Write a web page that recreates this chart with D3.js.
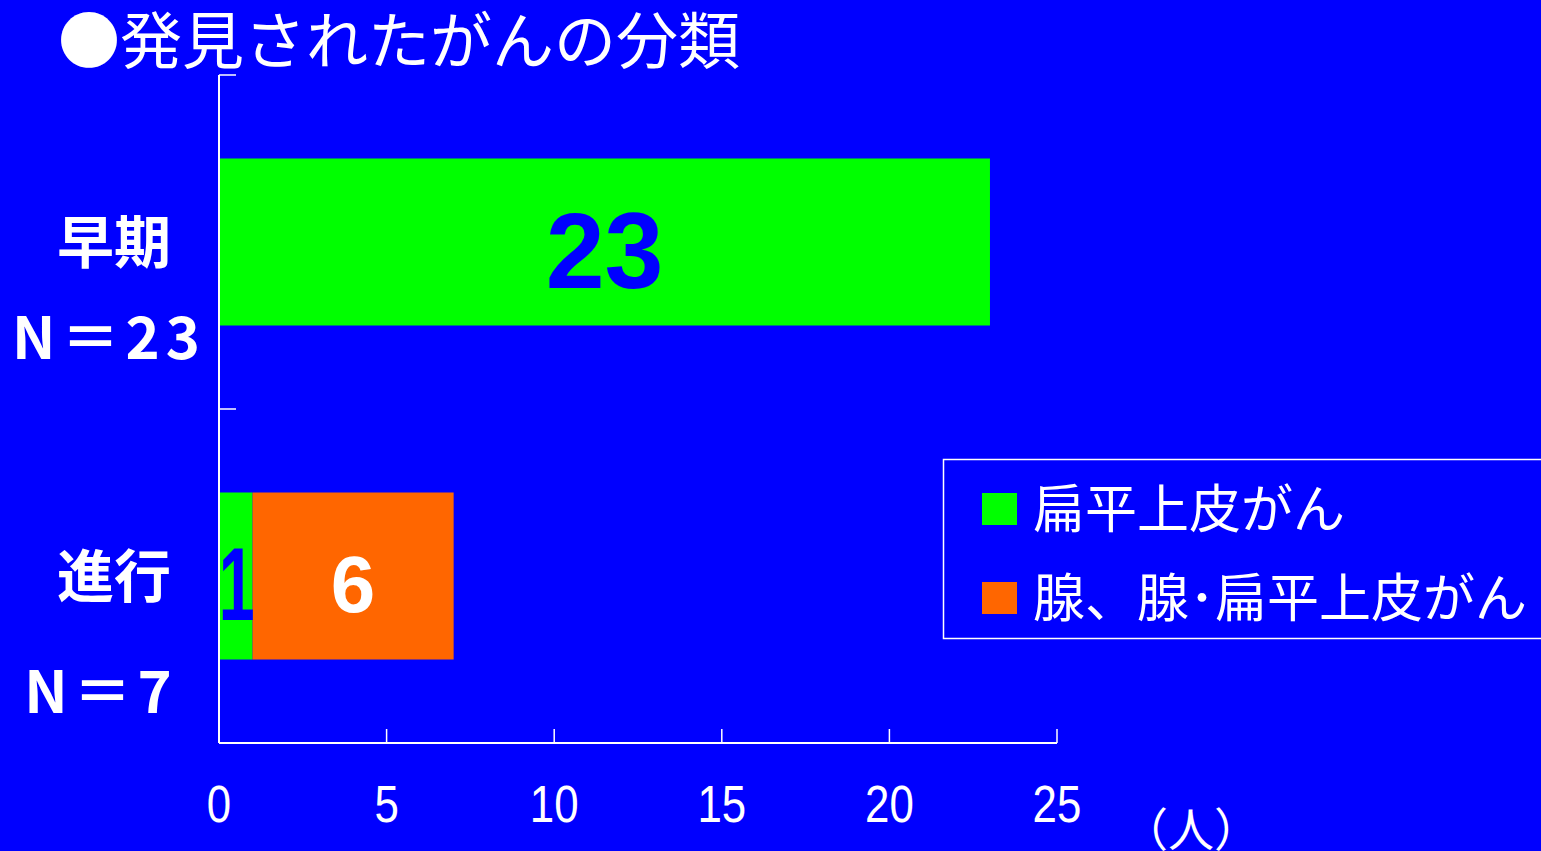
<!DOCTYPE html>
<html>
<head>
<meta charset="utf-8">
<script src="https://cdn.jsdelivr.net/npm/d3@7"></script>
<style>
  html, body { margin: 0; padding: 0; background: #0000ff; overflow: hidden; }
  svg { display: block; }
</style>
</head>
<body>
<svg id="chart" width="1541" height="851"></svg>
<script>
// Stages of the detected cancers and counts by histology
const categories = ["早期", "進行"];
const nLabels = ["N＝23", "N＝7"];
const squamous = [23, 1];          // 扁平上皮がん
const adeno = [0, 6];              // 腺、腺･扁平上皮がん
const xTicks = [0, 5, 10, 15, 20, 25];
const seriesNames = ["扁平上皮がん", "腺、腺･扁平上皮がん"];
const seriesColors = ["#00ff00", "#ff6600"];
const titleText = "●発見されたがんの分類";
const unitText = "（人）";

const W = 1541, H = 851;
const JP = "'Noto Sans CJK JP', 'Noto Sans', sans-serif";
const LAT = "'Liberation Sans', Arial, sans-serif";
const svg = d3.select("#chart");

svg.append("rect").attr("width", W).attr("height", H).attr("fill", "#0000ff");

const plot = { left: 219, right: 1057, top: 75, bottom: 743 };

const x = d3.scaleLinear().domain([0, 25]).range([plot.left, plot.right]);
const y = d3.scaleBand().domain(categories).range([plot.top, plot.bottom])
  .paddingInner(0.5).paddingOuter(0.25);

// Title
svg.append("text")
  .attr("x", 58).attr("y", 64)
  .attr("font-family", JP).attr("font-size", 62)
  .attr("fill", "#fff")
  .text(titleText);

// Stacked bars
const rows = categories.map((c, i) => ({ cat: c, vals: [squamous[i], adeno[i]] }));
rows.forEach(r => {
  let acc = 0;
  r.vals.forEach((v, k) => {
    if (v > 0) {
      svg.append("rect")
        .attr("x", x(acc)).attr("y", y(r.cat))
        .attr("width", x(acc + v) - x(acc)).attr("height", y.bandwidth())
        .attr("fill", seriesColors[k]);
    }
    acc += v;
  });
});

// Value labels inside bars
function barLabel(cat, start, v, size, color, sx, dx) {
  const cx = (x(start) + x(start + v)) / 2 + dx;
  const cy = y(cat) + y.bandwidth() / 2 + 7 + size * 0.716 / 2;
  svg.append("text")
    .attr("transform", `translate(${cx},${cy}) scale(${sx},1)`)
    .attr("text-anchor", "middle")
    .attr("font-family", LAT).attr("font-weight", "bold")
    .attr("font-size", size).attr("fill", color)
    .text(v);
}
barLabel(categories[0], 0, squamous[0], 108, "#0000ff", 0.98, 0);
barLabel(categories[1], 0, squamous[1], 104, "#0000ff", 0.62, 1);
barLabel(categories[1], squamous[1], adeno[1], 80, "#ffffff", 1, 0);

// Axes
const axisColor = "#ffffff";
svg.append("line")
  .attr("x1", plot.left).attr("x2", plot.left)
  .attr("y1", plot.top).attr("y2", plot.bottom)
  .attr("stroke", axisColor).attr("stroke-width", 2);
svg.append("line")
  .attr("x1", plot.left).attr("x2", plot.right)
  .attr("y1", plot.bottom).attr("y2", plot.bottom)
  .attr("stroke", axisColor).attr("stroke-width", 2);

// Category boundary ticks on the vertical axis
const bounds = [plot.top].concat(categories.map(c => y(c) + y.bandwidth() + y.step() * 0.25));
bounds.forEach(b => {
  svg.append("line")
    .attr("x1", plot.left).attr("x2", plot.left + 17)
    .attr("y1", b).attr("y2", b)
    .attr("stroke", axisColor).attr("stroke-width", 1.5);
});

// Horizontal axis ticks and labels
xTicks.forEach(t => {
  svg.append("line")
    .attr("x1", x(t)).attr("x2", x(t))
    .attr("y1", plot.bottom).attr("y2", plot.bottom - 14)
    .attr("stroke", axisColor).attr("stroke-width", 1.5);
  svg.append("text")
    .attr("transform", `translate(${x(t)},822) scale(0.86,1)`)
    .attr("text-anchor", "middle")
    .attr("font-family", LAT).attr("font-size", 51)
    .attr("fill", "#fff")
    .text(t);
});

svg.append("text")
  .attr("x", 1191).attr("y", 846)
  .attr("text-anchor", "middle")
  .attr("font-family", JP).attr("font-size", 46)
  .attr("fill", "#fff")
  .text(unitText);

// Category labels
categories.forEach((c, i) => {
  const cy = y(c) + y.bandwidth() / 2;
  svg.append("text")
    .attr("x", 114).attr("y", cy)
    .attr("dy", "0.36em")
    .attr("text-anchor", "middle")
    .attr("font-family", JP).attr("font-weight", "bold").attr("font-size", 57)
    .attr("fill", "#fff")
    .text(c);
});
const nPos = [{ x: 109, y: 338 }, { x: 101, y: 692 }];
nLabels.forEach((t, i) => {
  svg.append("text")
    .attr("x", nPos[i].x).attr("y", nPos[i].y)
    .attr("dy", "0.36em")
    .attr("text-anchor", "middle")
    .attr("font-family", JP).attr("font-weight", "bold").attr("font-size", 58)
    .attr("letter-spacing", 6)
    .attr("fill", "#fff")
    .text(t);
});

// Legend
const lg = svg.append("g");
lg.append("rect")
  .attr("x", 943.5).attr("y", 459.5)
  .attr("width", 620).attr("height", 179)
  .attr("fill", "none").attr("stroke", "#fff").attr("stroke-width", 1.5);
const legendRows = [509, 598];
seriesNames.forEach((name, k) => {
  lg.append("rect")
    .attr("x", 982).attr("y", legendRows[k] - 16)
    .attr("width", 35).attr("height", 32)
    .attr("fill", seriesColors[k]);
  lg.append("text")
    .attr("x", 1033).attr("y", legendRows[k])
    .attr("dy", "0.36em")
    .attr("font-family", JP).attr("font-size", 52)
    .attr("fill", "#fff")
    .text(name);
});
</script>
</body>
</html>
